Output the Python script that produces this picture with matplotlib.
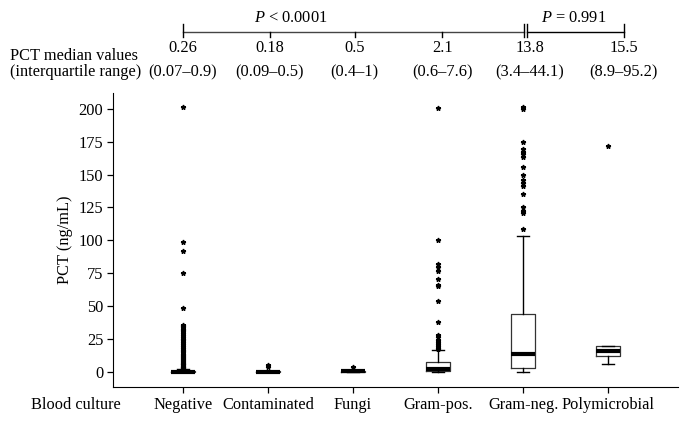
import matplotlib
matplotlib.use("Agg")
import matplotlib.pyplot as plt
from matplotlib.transforms import blended_transform_factory

plt.rcParams['font.family'] = ['Liberation Serif', 'DejaVu Serif']
plt.rcParams['mathtext.fontset'] = 'custom'
plt.rcParams['mathtext.it'] = 'Liberation Serif:italic'
plt.rcParams['mathtext.rm'] = 'Liberation Serif'

FS = 11.8

# Blood culture groups
categories = ['Negative', 'Contaminated', 'Fungi', 'Gram-pos.', 'Gram-neg.', 'Polymicrobial']
median_labels = ['0.26', '0.18', '0.5', '2.1', '13.8', '15.5']
iqr_labels = ['(0.07–0.9)', '(0.09–0.5)', '(0.4–1)', '(0.6–7.6)', '(3.4–44.1)', '(8.9–95.2)']

# box values as drawn (ng/mL)
q1 = [0.07, 0.09, 0.4, 0.6, 3.4, 12.4]
med = [0.26, 0.18, 0.5, 2.1, 13.8, 16.0]
q3 = [0.9, 0.5, 1.0, 7.6, 44.1, 20.0]
whis_lo = [0.0, 0.0, 0.1, 0.0, 0.3, 6.0]
whis_hi = [2.1, 1.1, 1.6, 16.7, 103.5, 20.0]

# outliers
fliers_neg = [2.3, 2.8, 3.2, 3.7, 4.2, 4.8, 5.3, 5.9, 6.4, 7.0, 7.6, 8.3, 9.0, 9.8,
              10.5, 11.2, 12.0, 13.0, 14.0, 15.0, 16.0, 17.0, 18.0, 19.5, 21.0, 22.5,
              24.0, 25.5, 27.0, 28.5, 30.0, 31.0, 32.0, 33.0, 34.0, 35.0, 36.0,
              49.0, 75.5, 92.0, 99.0, 201.0]
fliers_cont = [3.8, 5.2]
fliers_fungi = [3.6]
fliers_gpos = [17.5, 18.5, 19.8, 21.3, 22.5, 24.3, 26.8, 28.0, 37.7, 54.0, 65.0,
               66.5, 70.7, 77.0, 80.0, 82.0, 100.0, 200.5]
fliers_gneg = [109.0, 120.5, 122.0, 125.0, 135.0, 141.0, 143.5, 146.0, 150.0, 156.0,
               163.4, 165.5, 167.0, 169.0, 175.0, 200.0, 201.5]
fliers_poly = [171.7]
fliers = [fliers_neg, fliers_cont, fliers_fungi, fliers_gpos, fliers_gneg, fliers_poly]

p_left = '$P$ < 0.0001'
p_right = '$P$ = 0.991'

stats = []
for i in range(len(categories)):
    stats.append({'label': categories[i], 'q1': q1[i], 'med': med[i], 'q3': q3[i],
                  'whislo': whis_lo[i], 'whishi': whis_hi[i], 'fliers': fliers[i]})

fig = plt.figure(figsize=(6.89, 4.24), dpi=100)
ax = fig.add_axes([0.164, 0.087, 0.82, 0.694])

pos = list(range(1, len(categories) + 1))
ax.bxp(stats, positions=pos, widths=0.28, capwidths=0.14,
       boxprops=dict(color='#333333', linewidth=0.9),
       whiskerprops=dict(color='black', linewidth=1.0),
       capprops=dict(color='black', linewidth=1.0),
       medianprops=dict(color='black', linewidth=3.0, solid_capstyle='butt'),
       flierprops=dict(marker='*', markersize=3.5, markerfacecolor='black',
                       markeredgecolor='black', linestyle='none'))

ax.set_xlim(0.18, 6.82)
ax.set_ylim(-11.4, 212)
ax.set_yticks([0, 25, 50, 75, 100, 125, 150, 175, 200])
ax.set_xticks(pos)
ax.set_xticklabels(categories)
ax.tick_params(direction='out', length=4, width=0.9, labelsize=FS, pad=3)
ax.spines['top'].set_visible(False)
ax.spines['right'].set_visible(False)
ax.set_ylabel('PCT (ng/mL)', fontsize=FS, labelpad=4)

fig.text(0.175, 0.045, 'Blood culture', fontsize=FS, ha='right', va='center')

# top annotation rows
tr = blended_transform_factory(ax.transData, fig.transFigure)
top_x = [1.0, 2.02, 3.02, 4.05, 5.08, 6.18]
for i in range(len(categories)):
    ax.text(top_x[i], 1 - 48 / 424, median_labels[i], transform=tr, ha='center',
            va='center', fontsize=FS, clip_on=False)
    ax.text(top_x[i], 1 - 72 / 424, iqr_labels[i], transform=tr, ha='center',
            va='center', fontsize=FS, clip_on=False)
fig.text(10 / 689, 1 - 56 / 424, 'PCT median values', fontsize=FS, ha='left', va='center')
fig.text(10 / 689, 1 - 72 / 424, '(interquartile range)', fontsize=FS, ha='left', va='center')

# brackets
yb = 1 - 32 / 424
ax.plot([1.0, 5.01], [yb, yb], color='#444444', linewidth=1.0, transform=tr, clip_on=False)
ax.plot([5.04, 6.18], [yb, yb], color='black', linewidth=1.0, transform=tr, clip_on=False)
for x in [1.0, 5.01, 5.04, 6.18]:
    ax.plot([x, x], [1 - 24 / 424, 1 - 37 / 424], color='black', linewidth=1.0,
            transform=tr, clip_on=False)
for x in [2.02, 3.02, 4.05]:
    ax.plot([x, x], [yb, 1 - 37 / 424], color='black', linewidth=1.0,
            transform=tr, clip_on=False)
ax.text(2.27, 1 - 18 / 424, p_left, transform=tr, ha='center', va='center',
        fontsize=FS, clip_on=False)
ax.text(5.6, 1 - 18 / 424, p_right, transform=tr, ha='center', va='center',
        fontsize=FS, clip_on=False)

fig.savefig('out.png', dpi=100)
